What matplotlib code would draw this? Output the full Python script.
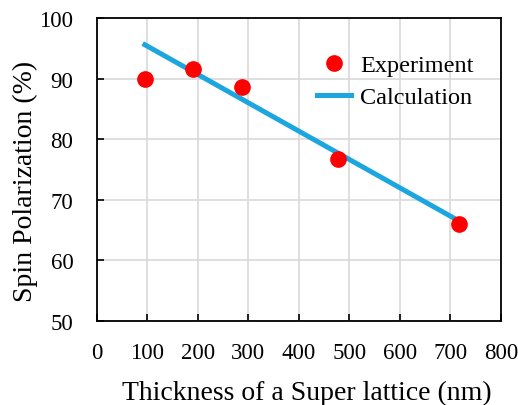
import numpy as np
import matplotlib
matplotlib.use('Agg')
import matplotlib.pyplot as plt

plt.rcParams['font.family'] = ['Liberation Serif', 'DejaVu Serif']

# experiment points
exp_x = [95, 190, 288, 478, 718]
exp_y = [90.0, 91.6, 88.7, 76.8, 66.0]
# calculation line
calc_x = [95, 715]
calc_y = [95.6, 66.6]

f, ax = plt.subplots(1, 1, figsize=(5.18, 4.06), dpi=100)
f.subplots_adjust(left=0.187, right=0.967, top=0.953, bottom=0.207)

ax.grid(True, color='#d9d9d9', linewidth=1.2)
ax.set_axisbelow(True)
ax.plot(calc_x, calc_y, color='#1ca6df', linewidth=3.6, label='Calculation', zorder=2)
ax.plot(exp_x, exp_y, 'o', color='#ff0000', markersize=11, label='Experiment', zorder=3)

ax.set_xlim([0, 800])
ax.set_ylim([50, 100])
ax.set_xticks(np.arange(0, 801, 100))
ax.set_yticks(np.arange(50, 101, 10))
ax.tick_params(direction='in', labelsize=16.5, length=5, width=1.2)
ax.tick_params(axis='y', pad=17)
ax.tick_params(axis='x', pad=15)
for s in ax.spines.values():
    s.set_linewidth(1.3)
    s.set_color('black')

ax.set_xlabel('Thickness of a Super lattice (nm)', fontsize=20, labelpad=12, x=0.52)
ax.set_ylabel('Spin Polarization (%)', fontsize=20, labelpad=1, y=0.464)

h, l = ax.get_legend_handles_labels()
ax.legend(h[::-1], l[::-1], loc='upper left', bbox_to_anchor=(0.546, 0.88), frameon=False,
          fontsize=17.5, handlelength=1.4, handletextpad=0.35, borderpad=0, borderaxespad=0,
          labelspacing=0.4)

f.savefig('out.png', dpi=100)
plt.close()
